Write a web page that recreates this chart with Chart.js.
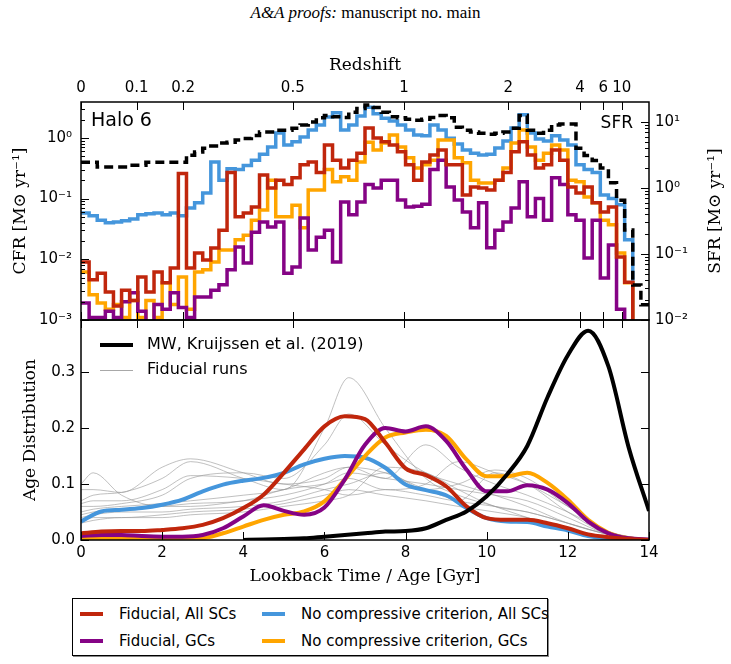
<!DOCTYPE html>
<html>
<head>
<meta charset="utf-8">
<title>Halo 6 cluster formation history</title>
<script src="https://cdn.jsdelivr.net/npm/chart.js@4.4.1/dist/chart.umd.min.js"></script>
<style>
  body { margin: 0; background: #fff; }
  #page { position: relative; width: 731px; height: 664px; overflow: hidden; }
  #header { position: absolute; top: 3px; left: 0; width: 731px; text-align: center;
            font-family: 'Liberation Serif', serif; font-size: 17px; color: #000; }
  #topChart { position: absolute; left: 0; top: 52px; }
  #ageChart { position: absolute; left: 0; top: 300px; }
  #legend { position: absolute; left: 72px; top: 598px; width: 476px; height: 58px; box-sizing: border-box;
            border: 1px solid #000; box-shadow: 1px 1px 0 #888; display: grid;
            grid-template-columns: 182px 1fr; grid-template-rows: 27px 27px; padding: 1px 0 0 7px;
            font-family: 'DejaVu Sans', sans-serif; font-size: 15px; color: #000; }
  .item { display: flex; align-items: center; white-space: nowrap; }
  .swatch { width: 23px; height: 4px; margin-right: 16px; }
</style>
</head>
<body>
<div id="page">
  <div id="header"><i>A&amp;A proofs:</i> manuscript no. main</div>
  <canvas id="topChart" width="731" height="290"></canvas>
  <canvas id="ageChart" width="731" height="294"></canvas>
  <div id="legend"></div>
</div>
<script>
// top panel: formation rates in 0.2 Gyr lookback-time bins
const BIN_WIDTH = 0.2;

const sfr = [2.45, 2.45, 2.07, 2.07, 2.07, 2.07, 2.2, 2.2, 2.45, 2.45,
  2.45, 2.45, 2.45, 3.13, 3.5, 4.0, 4.3, 4.8, 4.9, 5.3,
  5.6, 6.2, 7.0, 7.0, 7.5, 7.5, 8.0, 9.0, 10, 11.5,
  12.5, 12, 11.7, 14, 16, 18, 16.5, 14, 12, 11.5,
  11, 10.6, 11, 11.7, 12.5, 11.5, 8.3, 7.5, 7.0, 6.7,
  6.5, 6.7, 7.0, 8.0, 12.5, 7.5, 6.7, 7.5, 9.0, 9.3,
  9.3, 4.0, 3.1, 2.6, 2.0, 1.2, 0.65, 0.23, 0.034, 0.017];

const cfrFiducialAll = [0.0090, 0.0046, 0.0059, 0.0029, 0.0017, 0.0031, 0.0021, 0.0051, 0.0029, 0.0062,
  0.0041, 0.0072, 0.26, 0.0072, 0.0127, 0.0097, 0.0153, 0.030, 0.27, 0.050,
  0.058, 0.073, 0.245, 0.15, 0.20, 0.17, 0.22, 0.36, 0.40, 0.27,
  0.76, 0.43, 0.32, 0.43, 0.56, 1.46, 1.0, 0.86, 0.76, 0.59,
  0.36, 0.20, 0.40, 0.52, 0.63, 0.36, 0.36, 0.115, 0.155, 0.15,
  0.139, 0.20, 0.27, 0.59, 0.86, 0.52, 0.32, 0.36, 0.63, 0.43,
  0.155, 0.124, 0.155, 0.085, 0.060, 0.073, 0.0109, 0.0042, 0.0003];

const cfrFiducialGC = [0.0019, 0.0011, 0.0011, 0.0014, 0.0011, 0.0020, 0.0028, 0.0014, 0.0009, 0.0018,
  0.0015, 0.0028, 0.0016, 0.0011, 0.0024, 0.0024, 0.0031, 0.0038, 0.0067, 0.016,
  0.0087, 0.028, 0.041, 0.034, 0.041, 0.0059, 0.0075, 0.048, 0.0142, 0.023,
  0.030, 0.0090, 0.088, 0.054, 0.088, 0.17, 0.15, 0.20, 0.20, 0.095,
  0.073, 0.075, 0.081, 0.30, 0.43, 0.155, 0.095, 0.060, 0.033, 0.085,
  0.0155, 0.030, 0.041, 0.070, 0.19, 0.050, 0.10, 0.044, 0.22, 0.17,
  0.054, 0.044, 0.0105, 0.044, 0.0049, 0.0172, 0.0015, 0.0003, 0.0003];

const cfrNoCompAll = [0.058, 0.052, 0.044, 0.040, 0.041, 0.043, 0.046, 0.054, 0.056, 0.058,
  0.054, 0.058, 0.052, 0.070, 0.085, 0.124, 0.40, 0.20, 0.31, 0.30,
  0.35, 0.43, 0.54, 0.71, 1.2, 0.76, 0.86, 1.03, 1.35, 1.63,
  2.2, 2.6, 1.35, 1.63, 2.3, 3.2, 2.5, 2.1, 1.9, 1.63,
  1.35, 1.12, 1.08, 1.63, 1.35, 0.99, 0.79, 0.63, 0.56, 0.52,
  0.54, 0.68, 0.89, 1.46, 2.4, 1.2, 0.96, 0.89, 1.08, 0.92,
  0.76, 0.36, 0.30, 0.27, 0.115, 0.10, 0.079, 0.021, 0.0004];

const cfrNoCompGC = [0.0062, 0.0026, 0.0019, 0.0015, 0.0018, 0.0011, 0.0021, 0.0011, 0.0021, 0.0011,
  0.0041, 0.0018, 0.0051, 0.0015, 0.0062, 0.0067, 0.0090, 0.0142, 0.0142, 0.021,
  0.025, 0.044, 0.065, 0.20, 0.050, 0.050, 0.078, 0.033, 0.139, 0.139,
  0.30, 0.19, 0.23, 0.20, 0.40, 0.85, 0.63, 0.82, 1.12, 0.71,
  0.47, 0.32, 0.36, 0.43, 0.92, 0.92, 0.47, 0.39, 0.20, 0.18,
  0.18, 0.20, 0.32, 0.82, 1.35, 0.71, 0.43, 0.56, 0.76, 0.63,
  0.20, 0.19, 0.106, 0.085, 0.044, 0.037, 0.0127, 0.0041, 0.0003];

const redshiftLabels = ['0', '0.1', '0.2', '0.5', '1', '2', '4', '6', '10'];
const redshiftLookback = [0, 1.37, 2.52, 5.22, 7.96, 10.53, 12.3, 12.87, 13.33];
const cfrTicks = [0.001, 0.01, 0.1, 1];
const cfrTickLabels = ['10⁻³', '10⁻²', '10⁻¹', '10⁰'];
const sfrTicks = [0.01, 0.1, 1, 10];
const sfrTickLabels = ['10⁻²', '10⁻¹', '10⁰', '10¹'];

// bottom panel: age distributions
const ageTimes = [0, 0.5, 1, 1.5, 2, 2.5, 3, 3.5, 4, 4.5, 5, 5.5, 6, 6.5, 7,
  7.5, 8, 8.5, 9, 9.5, 10, 10.5, 11, 11.5, 12, 12.5, 13, 13.5, 14];
const ageFiducialAll = [0.012, 0.015, 0.016, 0.016, 0.018, 0.021, 0.027, 0.039, 0.057, 0.081, 0.12, 0.162, 0.203, 0.221, 0.216,
  0.174, 0.128, 0.116, 0.096, 0.06, 0.039, 0.036, 0.036, 0.03, 0.021, 0.010, 0.005, 0.002, 0.0];
const ageFiducialGC = [0.007, 0.009, 0.009, 0.007, 0.006, 0.006, 0.009, 0.021, 0.042, 0.062, 0.052, 0.045, 0.058, 0.108, 0.170,
  0.200, 0.194, 0.203, 0.177, 0.126, 0.087, 0.087, 0.098, 0.090, 0.066, 0.033, 0.012, 0.003, 0.001];
const ageNoCompAll = [0.033, 0.051, 0.054, 0.057, 0.063, 0.072, 0.087, 0.099, 0.106, 0.111, 0.120, 0.135, 0.145, 0.15, 0.147,
  0.129, 0.099, 0.089, 0.080, 0.057, 0.039, 0.033, 0.032, 0.024, 0.017, 0.007, 0.0025, 0.001, 0.0];
const ageNoCompGC = [0.003, 0.003, 0.003, 0.002, 0.001, 0.001, 0.003, 0.012, 0.024, 0.036, 0.045, 0.051, 0.069, 0.108, 0.150,
  0.183, 0.192, 0.197, 0.186, 0.144, 0.114, 0.114, 0.120, 0.102, 0.072, 0.036, 0.013, 0.003, 0.0];

const mwTimes = [4, 4.5, 5, 5.5, 6, 6.5, 7, 7.5, 8, 8.5, 9, 9.5, 10, 10.5, 11, 11.5, 12, 12.5, 13, 13.5, 14];
const mwAge = [0, 0.001, 0.002, 0.003, 0.006, 0.009, 0.012, 0.015, 0.016, 0.021, 0.036, 0.051, 0.078, 0.117, 0.168,
  0.255, 0.33, 0.374, 0.31, 0.165, 0.052];

const runTimes = [0, 0.3, 1, 2, 2.7, 4, 5, 6, 6.6, 7.5, 8.5, 9.3, 10.2, 11, 12, 13, 14];
const fiducialRuns = [
  [0.10, 0.12, 0.08, 0.06, 0.06, 0.07, 0.08, 0.10, 0.12, 0.11, 0.10, 0.09, 0.08, 0.07, 0.04, 0.01, 0.0],
  [0.09, 0.09, 0.085, 0.13, 0.145, 0.12, 0.10, 0.11, 0.13, 0.12, 0.09, 0.07, 0.06, 0.05, 0.03, 0.01, 0.0],
  [0.07, 0.08, 0.085, 0.11, 0.14, 0.11, 0.09, 0.20, 0.29, 0.20, 0.11, 0.08, 0.06, 0.04, 0.02, 0.005, 0.0],
  [0.06, 0.06, 0.065, 0.08, 0.11, 0.12, 0.11, 0.17, 0.225, 0.17, 0.12, 0.10, 0.08, 0.06, 0.03, 0.01, 0.0],
  [0.05, 0.055, 0.06, 0.065, 0.07, 0.08, 0.09, 0.12, 0.13, 0.11, 0.17, 0.13, 0.10, 0.08, 0.05, 0.015, 0.0],
  [0.045, 0.05, 0.055, 0.06, 0.065, 0.07, 0.09, 0.10, 0.11, 0.09, 0.10, 0.14, 0.12, 0.10, 0.06, 0.015, 0.0],
  [0.04, 0.045, 0.05, 0.05, 0.055, 0.06, 0.07, 0.09, 0.10, 0.12, 0.09, 0.10, 0.125, 0.11, 0.06, 0.015, 0.0],
  [0.035, 0.04, 0.04, 0.045, 0.05, 0.055, 0.065, 0.08, 0.09, 0.08, 0.07, 0.06, 0.05, 0.04, 0.02, 0.005, 0.0],
  [0.03, 0.035, 0.04, 0.04, 0.045, 0.05, 0.06, 0.07, 0.08, 0.13, 0.12, 0.09, 0.06, 0.05, 0.03, 0.01, 0.0],
  [0.065, 0.07, 0.07, 0.09, 0.115, 0.11, 0.10, 0.09, 0.08, 0.09, 0.08, 0.07, 0.12, 0.10, 0.05, 0.01, 0.0]
];
const ageTicks = [0, 0.1, 0.2, 0.3];
const ageTickLabels = ['0.0', '0.1', '0.2', '0.3'];
const timeTicks = [0, 2, 4, 6, 8, 10, 12, 14];

const RED = '#c0260c';
const PURPLE = '#850385';
const BLUE = '#4596dc';
const ORANGE = '#ffa500';

Chart.defaults.font.family = "'DejaVu Sans', sans-serif";
Chart.defaults.font.size = 15;
Chart.defaults.color = '#000';

const seriesMeta = [
  { label: 'Fiducial, All SCs', color: RED },
  { label: 'No compressive criterion, All SCs', color: BLUE },
  { label: 'Fiducial, GCs', color: PURPLE },
  { label: 'No compressive criterion, GCs', color: ORANGE }
];

function steps(vals) {
  const pts = vals.map((v, i) => ({ x: i * BIN_WIDTH, y: v }));
  pts.push({ x: vals.length * BIN_WIDTH, y: vals[vals.length - 1] });
  return pts;
}
function pairs(xs, ys) {
  return ys.map((y, i) => ({ x: xs[i], y }));
}
function logMinors(lo, hi) {
  const out = [];
  for (let d = Math.floor(Math.log10(lo)); d <= Math.ceil(Math.log10(hi)); d++) {
    for (let k = 2; k <= 9; k++) {
      const v = k * Math.pow(10, d);
      if (v > lo && v < hi) out.push(v);
    }
  }
  return out;
}
// keep the plot areas at fixed pixel edges, whatever the tick labels need
function noPadding(s) {
  s.paddingTop = 0; s.paddingBottom = 0; s.paddingLeft = 0; s.paddingRight = 0;
}

// box round the plot area plus inward tick marks, matplotlib style
function drawFrame(chart, marks) {
  const { ctx, chartArea: a } = chart;
  ctx.save();
  ctx.strokeStyle = '#000';
  ctx.lineWidth = 1.5;
  ctx.strokeRect(a.left, a.top, a.right - a.left, a.bottom - a.top);
  ctx.lineWidth = 1;
  marks.forEach(m => {
    const s = chart.scales[m.scale];
    m.values.forEach(v => {
      const p = Math.round(s.getPixelForValue(v)) + 0.5;
      ctx.beginPath();
      if (m.side === 'left') { ctx.moveTo(a.left, p); ctx.lineTo(a.left + m.len, p); }
      else if (m.side === 'right') { ctx.moveTo(a.right, p); ctx.lineTo(a.right - m.len, p); }
      else if (m.side === 'top') { ctx.moveTo(p, a.top); ctx.lineTo(p, a.top + m.len); }
      else { ctx.moveTo(p, a.bottom); ctx.lineTo(p, a.bottom - m.len); }
      ctx.stroke();
    });
  });
  ctx.restore();
}

const topDecor = {
  id: 'topDecor',
  afterDatasetsDraw(chart) {
    drawFrame(chart, [
      { scale: 'y', side: 'left', values: cfrTicks, len: 8 },
      { scale: 'y', side: 'left', values: logMinors(0.001, 3.9), len: 4 },
      { scale: 'y2', side: 'right', values: sfrTicks, len: 8 },
      { scale: 'y2', side: 'right', values: logMinors(0.01, 20), len: 4 },
      { scale: 'xTop', side: 'top', values: redshiftLookback, len: 8 },
      { scale: 'xTop', side: 'bottom', values: redshiftLookback, len: 8 }
    ]);
    const { ctx, chartArea: a } = chart;
    ctx.save();
    ctx.fillStyle = '#000';
    ctx.textBaseline = 'middle';
    ctx.font = "19px 'DejaVu Sans'";
    ctx.textAlign = 'left';
    ctx.fillText('Halo 6', a.left + 10, a.top + 19);
    ctx.font = "17px 'DejaVu Sans'";
    ctx.textAlign = 'right';
    ctx.fillText('SFR', a.right - 16, a.top + 22);
    ctx.translate(716, (a.top + a.bottom) / 2);
    ctx.rotate(-Math.PI / 2);
    ctx.textAlign = 'center';
    ctx.font = "17px 'DejaVu Serif'";
    ctx.fillText('SFR [M⊙ yr⁻¹]', 0, 0);
    ctx.restore();
  }
};

const ageDecor = {
  id: 'ageDecor',
  afterDatasetsDraw(chart) {
    drawFrame(chart, [
      { scale: 'y', side: 'left', values: ageTicks, len: 8 },
      { scale: 'y', side: 'right', values: ageTicks, len: 8 },
      { scale: 'x', side: 'bottom', values: timeTicks, len: 8 },
      { scale: 'x', side: 'top', values: redshiftLookback, len: 8 }
    ]);
    const { ctx, chartArea: a } = chart;
    ctx.save();
    ctx.lineCap = 'butt';
    ctx.strokeStyle = '#000';
    ctx.lineWidth = 4;
    ctx.beginPath(); ctx.moveTo(a.left + 19, a.top + 25); ctx.lineTo(a.left + 52, a.top + 25); ctx.stroke();
    ctx.strokeStyle = '#a8a8a8';
    ctx.lineWidth = 1;
    ctx.beginPath(); ctx.moveTo(a.left + 19, a.top + 50.5); ctx.lineTo(a.left + 52, a.top + 50.5); ctx.stroke();
    ctx.fillStyle = '#000';
    ctx.font = "16px 'DejaVu Sans'";
    ctx.textBaseline = 'middle';
    ctx.textAlign = 'left';
    ctx.fillText('MW, Kruijssen et al. (2019)', a.left + 66, a.top + 25);
    ctx.fillText('Fiducial runs', a.left + 66, a.top + 50);
    ctx.restore();
  }
};

const stepStyle = { stepped: true, pointRadius: 0, borderWidth: 3.5, clip: 0, fill: false };

new Chart(document.getElementById('topChart'), {
  type: 'line',
  data: {
    datasets: [
      Object.assign({ label: 'SFR', data: steps(sfr), yAxisID: 'y2', borderColor: '#000', borderDash: [9, 5] }, stepStyle),
      Object.assign({ label: seriesMeta[0].label, data: steps(cfrFiducialAll), yAxisID: 'y', borderColor: RED }, stepStyle),
      Object.assign({ label: seriesMeta[2].label, data: steps(cfrFiducialGC), yAxisID: 'y', borderColor: PURPLE }, stepStyle),
      Object.assign({ label: seriesMeta[3].label, data: steps(cfrNoCompGC), yAxisID: 'y', borderColor: ORANGE }, stepStyle),
      Object.assign({ label: seriesMeta[1].label, data: steps(cfrNoCompAll), yAxisID: 'y', borderColor: BLUE }, stepStyle)
    ]
  },
  options: {
    responsive: false,
    animation: false,
    layout: { padding: { bottom: 22 } },
    plugins: { legend: { display: false }, tooltip: { enabled: false } },
    scales: {
      x: { type: 'linear', min: 0, max: 14, display: false },
      xTop: {
        type: 'linear', position: 'top', min: 0, max: 14,
        grid: { display: false, drawTicks: false }, border: { display: false },
        afterBuildTicks: s => { s.ticks = redshiftLookback.map(v => ({ value: v })); },
        afterFit: s => { s.height = 50; noPadding(s); },
        ticks: { autoSkip: false, maxRotation: 0, padding: 5,
                 callback: (v) => redshiftLabels[redshiftLookback.indexOf(v)] },
        title: { display: true, text: 'Redshift', font: { family: "'DejaVu Serif'", size: 17 }, padding: { top: 3, bottom: 0 } }
      },
      y: {
        type: 'logarithmic', position: 'left', min: 0.001, max: 3.9,
        grid: { display: false, drawTicks: false }, border: { display: false },
        afterBuildTicks: s => { s.ticks = cfrTicks.map(v => ({ value: v })); },
        afterFit: s => { s.width = 81; noPadding(s); },
        ticks: { autoSkip: false, padding: 9, callback: (v) => cfrTickLabels[cfrTicks.indexOf(v)] },
        title: { display: true, text: 'CFR [M⊙ yr⁻¹]', font: { family: "'DejaVu Serif'", size: 17 }, padding: { top: 10 } }
      },
      y2: {
        type: 'logarithmic', position: 'right', min: 0.01, max: 20,
        grid: { display: false, drawTicks: false }, border: { display: false },
        afterBuildTicks: s => { s.ticks = sfrTicks.map(v => ({ value: v })); },
        afterFit: s => { s.width = 82; noPadding(s); },
        ticks: { autoSkip: false, padding: 6, callback: (v) => sfrTickLabels[sfrTicks.indexOf(v)] }
      }
    }
  },
  plugins: [topDecor]
});

const smooth = { pointRadius: 0, cubicInterpolationMode: 'monotone', fill: false };
const ageSets = [
  Object.assign({ label: 'MW, Kruijssen et al. (2019)', data: pairs(mwTimes, mwAge), borderColor: '#000', borderWidth: 4 }, smooth),
  Object.assign({ label: seriesMeta[0].label, data: pairs(ageTimes, ageFiducialAll), borderColor: RED, borderWidth: 4 }, smooth),
  Object.assign({ label: seriesMeta[2].label, data: pairs(ageTimes, ageFiducialGC), borderColor: PURPLE, borderWidth: 4 }, smooth),
  Object.assign({ label: seriesMeta[3].label, data: pairs(ageTimes, ageNoCompGC), borderColor: ORANGE, borderWidth: 4 }, smooth),
  Object.assign({ label: seriesMeta[1].label, data: pairs(ageTimes, ageNoCompAll), borderColor: BLUE, borderWidth: 4 }, smooth)
];
fiducialRuns.forEach((run, i) => {
  ageSets.push(Object.assign({ label: i === 0 ? 'Fiducial runs' : '', data: pairs(runTimes, run),
    borderColor: 'rgba(150,150,150,0.6)', borderWidth: 1 }, smooth));
});

new Chart(document.getElementById('ageChart'), {
  type: 'line',
  data: { datasets: ageSets },
  options: {
    responsive: false,
    animation: false,
    layout: { padding: { top: 20, right: 82 } },
    plugins: { legend: { display: false }, tooltip: { enabled: false } },
    scales: {
      x: {
        type: 'linear', position: 'bottom', min: 0, max: 14,
        grid: { display: false, drawTicks: false }, border: { display: false },
        afterBuildTicks: s => { s.ticks = timeTicks.map(v => ({ value: v })); },
        afterFit: s => { s.height = 54; noPadding(s); },
        ticks: { autoSkip: false, maxRotation: 0, padding: 4 },
        title: { display: true, text: 'Lookback Time / Age [Gyr]', font: { family: "'DejaVu Serif'", size: 17 }, padding: { top: 0, bottom: 7 } }
      },
      y: {
        type: 'linear', position: 'left', min: 0, max: 0.393,
        grid: { display: false, drawTicks: false }, border: { display: false },
        afterBuildTicks: s => { s.ticks = ageTicks.map(v => ({ value: v })); },
        afterFit: s => { s.width = 81; noPadding(s); },
        ticks: { autoSkip: false, padding: 6, callback: (v) => ageTickLabels[ageTicks.indexOf(v)] },
        title: { display: true, text: 'Age Distribution', font: { family: "'DejaVu Serif'", size: 17 }, padding: { top: 20 } }
      }
    }
  },
  plugins: [ageDecor]
});

// legend box under the figure, built from the same series list
const legendOrder = [seriesMeta[0], seriesMeta[1], seriesMeta[2], seriesMeta[3]];
document.getElementById('legend').innerHTML = legendOrder.map(s =>
  `<div class="item"><span class="swatch" style="background:${s.color}"></span>${s.label}</div>`).join('');
</script>
</body>
</html>
